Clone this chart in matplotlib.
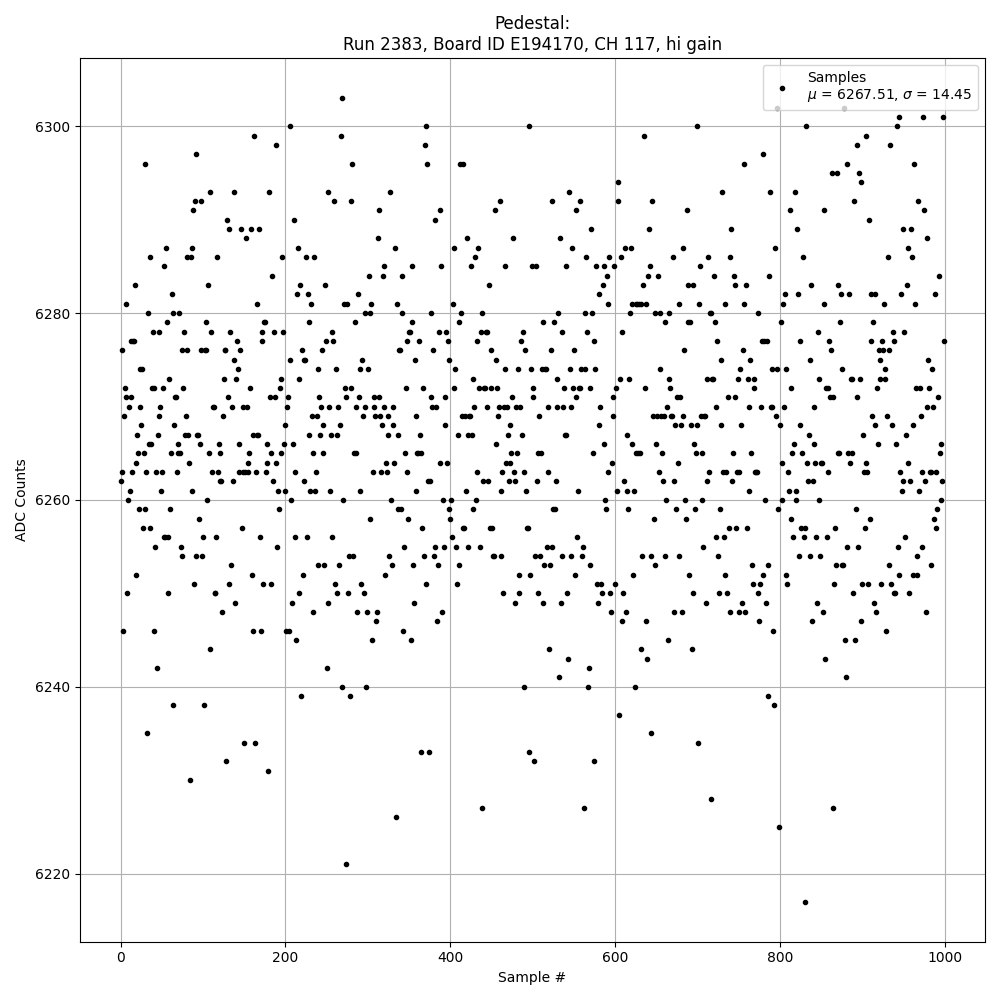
import numpy as np
import matplotlib
matplotlib.use("Agg")
import matplotlib.pyplot as plt

# ADC counts per sample (100 samples per list)
adc_000 = [6262, 6276, 6263, 6246, 6269, 6272, 6281, 6271, 6250, 6260,
           6270, 6261, 6271, 6277, 6263, 6277, 6277, 6283, 6264, 6252,
           6267, 6265, 6259, 6274, 6270, 6268, 6274, 6257, 6265, 6296,
           6259, 6263, 6235, 6280, 6266, 6257, 6286, 6266, 6272, 6278,
           6246, 6272, 6255, 6263, 6242, 6267, 6278, 6269, 6270, 6261,
           6263, 6272, 6285, 6256, 6256, 6287, 6279, 6256, 6250, 6273,
           6259, 6265, 6282, 6238, 6280, 6268, 6271, 6271, 6263, 6266,
           6265, 6280, 6265, 6255, 6276, 6254, 6272, 6278, 6267, 6269,
           6286, 6276, 6267, 6264, 6230, 6286, 6287, 6261, 6291, 6251,
           6292, 6254, 6297, 6267, 6267, 6258, 6266, 6292, 6276, 6254]
adc_100 = [6256, 6238, 6276, 6279, 6276, 6260, 6283, 6265, 6293, 6244,
           6278, 6263, 6270, 6270, 6250, 6250, 6256, 6286, 6263, 6266,
           6265, 6262, 6262, 6248, 6269, 6273, 6276, 6276, 6232, 6290,
           6271, 6289, 6251, 6278, 6253, 6270, 6262, 6293, 6275, 6249,
           6273, 6277, 6274, 6266, 6263, 6276, 6289, 6257, 6270, 6263,
           6234, 6263, 6288, 6270, 6263, 6264, 6265, 6272, 6289, 6252,
           6267, 6246, 6299, 6234, 6263, 6281, 6267, 6267, 6289, 6256,
           6246, 6278, 6277, 6251, 6279, 6279, 6263, 6266, 6264, 6231,
           6293, 6271, 6265, 6251, 6284, 6262, 6278, 6271, 6264, 6298,
           6255, 6261, 6259, 6272, 6273, 6265, 6286, 6278, 6266, 6268]
adc_200 = [6261, 6246, 6270, 6271, 6246, 6300, 6275, 6260, 6249, 6266,
           6290, 6263, 6256, 6245, 6282, 6287, 6273, 6250, 6283, 6239,
           6276, 6252, 6262, 6275, 6275, 6286, 6256, 6282, 6279, 6267,
           6261, 6281, 6269, 6265, 6248, 6286, 6261, 6263, 6269, 6274,
           6253, 6271, 6267, 6270, 6276, 6268, 6265, 6253, 6283, 6277,
           6242, 6293, 6249, 6270, 6261, 6267, 6278, 6256, 6277, 6292,
           6251, 6274, 6267, 6250, 6270, 6253, 6268, 6299, 6303, 6240,
           6260, 6281, 6272, 6271, 6221, 6281, 6250, 6254, 6239, 6292,
           6272, 6296, 6254, 6265, 6279, 6270, 6265, 6248, 6282, 6271,
           6274, 6261, 6251, 6275, 6269, 6250, 6280, 6270, 6240, 6248]
adc_300 = [6274, 6284, 6280, 6258, 6281, 6245, 6263, 6271, 6270, 6269,
           6247, 6248, 6288, 6291, 6271, 6269, 6263, 6268, 6284, 6285,
           6270, 6252, 6264, 6263, 6269, 6267, 6254, 6293, 6260, 6253,
           6270, 6268, 6264, 6287, 6226, 6281, 6267, 6259, 6276, 6276,
           6259, 6284, 6280, 6246, 6255, 6265, 6272, 6277, 6263, 6258,
           6278, 6278, 6245, 6285, 6279, 6253, 6249, 6275, 6269, 6261,
           6265, 6265, 6277, 6267, 6265, 6233, 6257, 6272, 6254, 6298,
           6300, 6251, 6296, 6262, 6233, 6262, 6280, 6271, 6270, 6276,
           6254, 6290, 6255, 6270, 6247, 6253, 6278, 6291, 6264, 6285,
           6248, 6260, 6255, 6271, 6268, 6278, 6264, 6277, 6275, 6259]
adc_400 = [6258, 6260, 6256, 6281, 6287, 6272, 6274, 6255, 6251, 6267,
           6279, 6253, 6296, 6280, 6269, 6257, 6296, 6257, 6269, 6261,
           6288, 6267, 6255, 6269, 6269, 6285, 6267, 6273, 6259, 6270,
           6286, 6260, 6277, 6263, 6287, 6272, 6255, 6278, 6280, 6227,
           6262, 6272, 6272, 6278, 6278, 6270, 6262, 6283, 6257, 6276,
           6272, 6257, 6254, 6254, 6291, 6275, 6266, 6272, 6269, 6270,
           6292, 6261, 6254, 6263, 6250, 6270, 6285, 6274, 6264, 6270,
           6267, 6262, 6268, 6264, 6265, 6271, 6288, 6263, 6262, 6249,
           6270, 6265, 6274, 6252, 6250, 6270, 6277, 6267, 6278, 6240,
           6263, 6276, 6261, 6257, 6257, 6300, 6233, 6252, 6274, 6285]
adc_500 = [6272, 6271, 6232, 6254, 6285, 6262, 6250, 6265, 6269, 6254,
           6265, 6274, 6279, 6249, 6253, 6274, 6274, 6255, 6270, 6263,
           6244, 6253, 6276, 6255, 6292, 6259, 6279, 6259, 6262, 6273,
           6270, 6280, 6241, 6288, 6249, 6278, 6254, 6270, 6272, 6267,
           6285, 6267, 6250, 6243, 6293, 6274, 6270, 6254, 6287, 6272,
           6276, 6252, 6291, 6271, 6256, 6261, 6272, 6292, 6272, 6274,
           6254, 6255, 6227, 6274, 6280, 6286, 6278, 6240, 6242, 6272,
           6253, 6289, 6280, 6265, 6277, 6232, 6274, 6285, 6251, 6249,
           6282, 6268, 6270, 6251, 6250, 6283, 6285, 6266, 6260, 6259,
           6284, 6281, 6263, 6286, 6250, 6248, 6264, 6271, 6269, 6285]
adc_600 = [6251, 6272, 6261, 6294, 6292, 6237, 6273, 6286, 6278, 6247,
           6250, 6262, 6287, 6248, 6267, 6261, 6259, 6273, 6280, 6287,
           6281, 6266, 6252, 6261, 6240, 6265, 6281, 6281, 6265, 6281,
           6265, 6244, 6281, 6254, 6283, 6299, 6272, 6281, 6247, 6243,
           6284, 6289, 6285, 6254, 6235, 6292, 6269, 6258, 6280, 6253,
           6266, 6269, 6284, 6263, 6280, 6274, 6269, 6265, 6262, 6269,
           6279, 6254, 6260, 6270, 6245, 6280, 6273, 6272, 6269, 6269,
           6286, 6262, 6248, 6268, 6259, 6271, 6264, 6281, 6254, 6271,
           6268, 6248, 6287, 6269, 6276, 6260, 6258, 6291, 6283, 6279,
           6252, 6279, 6268, 6244, 6283, 6250, 6266, 6259, 6265, 6300]
adc_700 = [6268, 6234, 6281, 6285, 6269, 6260, 6265, 6255, 6269, 6269,
           6249, 6262, 6273, 6286, 6263, 6280, 6228, 6280, 6273, 6273,
           6284, 6279, 6270, 6256, 6277, 6254, 6250, 6259, 6275, 6268,
           6293, 6263, 6256, 6281, 6252, 6263, 6250, 6271, 6257, 6286,
           6248, 6289, 6262, 6265, 6284, 6283, 6271, 6257, 6263, 6273,
           6248, 6263, 6274, 6268, 6249, 6276, 6296, 6281, 6248, 6283,
           6257, 6273, 6270, 6261, 6275, 6265, 6253, 6251, 6273, 6272,
           6263, 6263, 6263, 6280, 6250, 6247, 6251, 6270, 6277, 6297,
           6252, 6277, 6260, 6249, 6277, 6253, 6239, 6284, 6293, 6270,
           6274, 6270, 6246, 6238, 6287, 6269, 6274, 6302, 6259, 6225]
adc_800 = [6268, 6279, 6264, 6260, 6281, 6270, 6282, 6274, 6252, 6251,
           6263, 6261, 6291, 6272, 6258, 6265, 6256, 6266, 6293, 6261,
           6260, 6289, 6282, 6254, 6277, 6268, 6257, 6265, 6286, 6256,
           6257, 6217, 6300, 6264, 6262, 6267, 6275, 6254, 6283, 6247,
           6262, 6270, 6266, 6264, 6256, 6249, 6278, 6273, 6260, 6254,
           6264, 6264, 6248, 6291, 6281, 6243, 6272, 6256, 6263, 6272,
           6277, 6271, 6276, 6295, 6271, 6227, 6251, 6257, 6253, 6295,
           6283, 6265, 6265, 6279, 6282, 6274, 6253, 6253, 6302, 6245,
           6241, 6296, 6255, 6265, 6282, 6264, 6273, 6273, 6265, 6250,
           6292, 6245, 6259, 6298, 6271, 6255, 6295, 6273, 6247, 6294]
adc_900 = [6251, 6267, 6263, 6257, 6299, 6264, 6263, 6251, 6290, 6258,
           6282, 6277, 6269, 6279, 6249, 6282, 6268, 6248, 6272, 6266,
           6276, 6273, 6275, 6251, 6277, 6276, 6281, 6273, 6274, 6246,
           6269, 6286, 6276, 6253, 6298, 6251, 6268, 6278, 6277, 6250,
           6250, 6266, 6300, 6255, 6301, 6252, 6263, 6282, 6261, 6289,
           6262, 6278, 6256, 6267, 6283, 6287, 6264, 6250, 6262, 6289,
           6286, 6268, 6252, 6296, 6281, 6272, 6254, 6252, 6292, 6261,
           6272, 6269, 6255, 6263, 6301, 6291, 6262, 6248, 6288, 6270,
           6275, 6272, 6263, 6253, 6263, 6274, 6270, 6258, 6282, 6257,
           6263, 6259, 6271, 6284, 6265, 6266, 6260, 6262, 6301, 6277]

run_number = 2383
board_id = "E194170"
channel = 117
gain = "hi"
mean_label = 6267.51
sigma_label = 14.45

adc = np.array(adc_000 + adc_100 + adc_200 + adc_300 + adc_400
               + adc_500 + adc_600 + adc_700 + adc_800 + adc_900)
samples = np.arange(len(adc))

fig, ax = plt.subplots(figsize=(10, 10), dpi=100)
ax.plot(samples, adc, "k.",
        label="Samples\n$\\mu$ = %.2f, $\\sigma$ = %.2f" % (mean_label, sigma_label))
ax.set_title("Pedestal:\nRun %d, Board ID %s, CH %d, %s gain" % (run_number, board_id, channel, gain))
ax.set_xlabel("Sample #")
ax.set_ylabel("ADC Counts")
ax.grid(True)
ax.legend(loc="upper right")
fig.tight_layout()
fig.savefig("out.png")
